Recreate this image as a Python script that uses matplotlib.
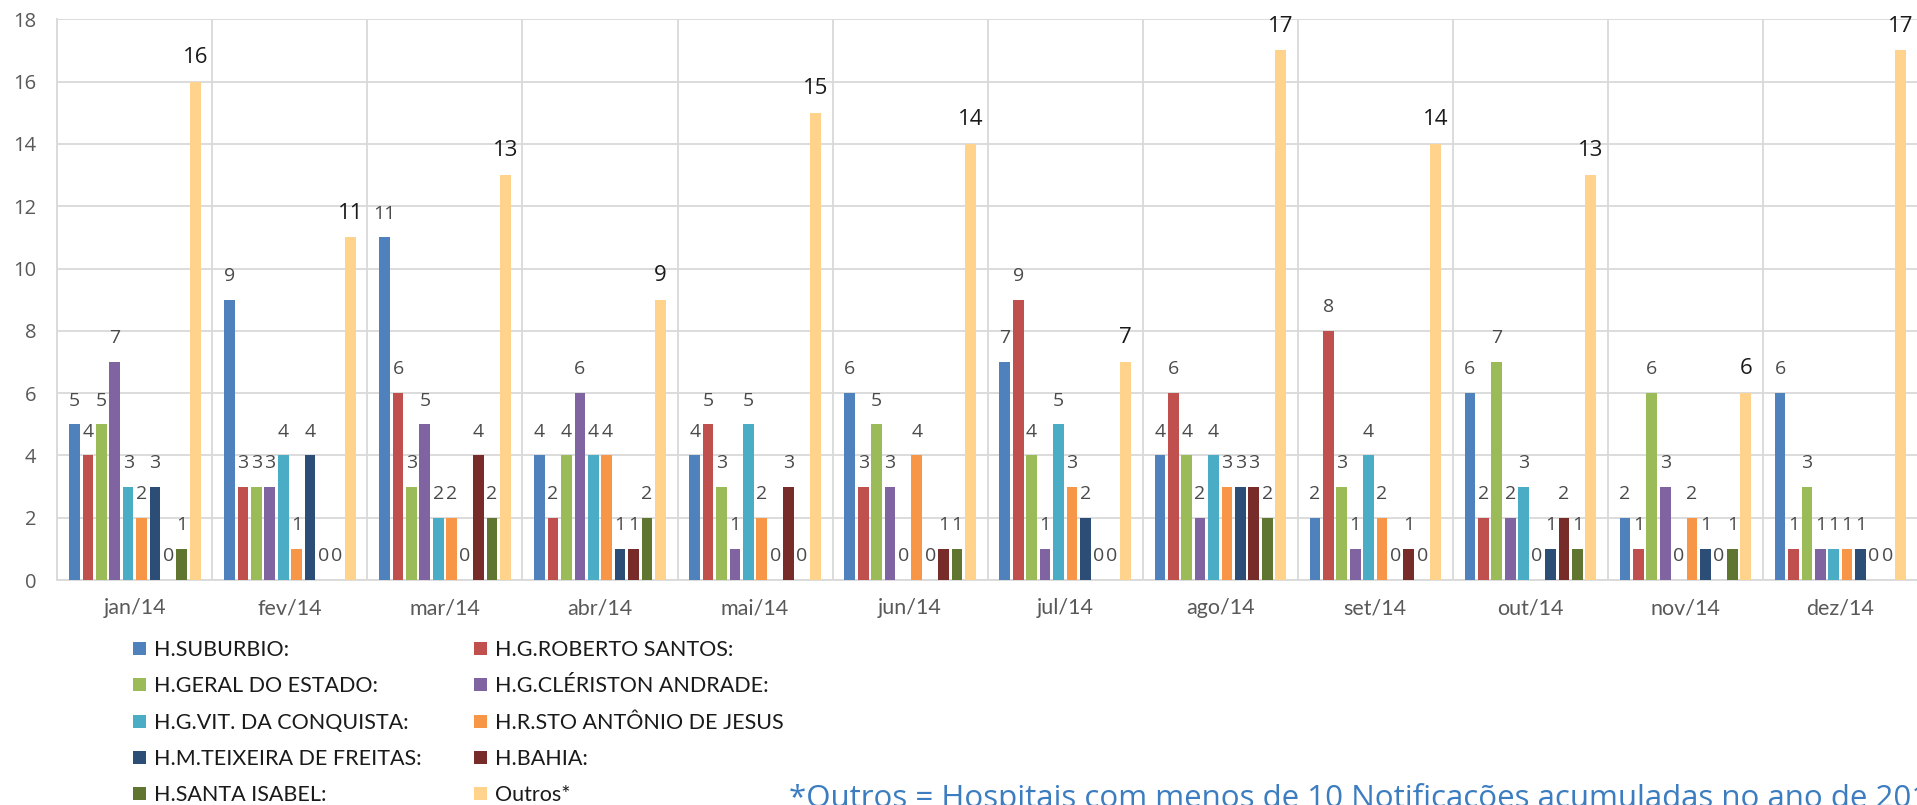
import numpy as np
import matplotlib.pyplot as plt
from matplotlib.patches import Patch

# months on the x axis
meses = ['jan/14', 'fev/14', 'mar/14', 'abr/14', 'mai/14', 'jun/14',
         'jul/14', 'ago/14', 'set/14', 'out/14', 'nov/14', 'dez/14']

# hospitals (series) and their colours
hospitais = ['H.SUBURBIO:', 'H.G.ROBERTO SANTOS:', 'H.GERAL DO ESTADO:',
             'H.G.CLÉRISTON ANDRADE:', 'H.G.VIT. DA CONQUISTA:',
             'H.R.STO ANTÔNIO DE JESUS', 'H.M.TEIXEIRA DE FREITAS:',
             'H.BAHIA:', 'H.SANTA ISABEL:', 'Outros*']
cores = ['#4F81BD', '#C0504D', '#9BBB59', '#8064A2', '#4BACC6',
         '#F79646', '#2C4D75', '#772C2A', '#5F7530', '#FFD38C']

# notifications per month, one list per hospital
suburbio = [5, 9, 11, 4, 4, 6, 7, 4, 2, 6, 2, 6]
roberto_santos = [4, 3, 6, 2, 5, 3, 9, 6, 8, 2, 1, 1]
geral_estado = [5, 3, 3, 4, 3, 5, 4, 4, 3, 7, 6, 3]
cleriston = [7, 3, 5, 6, 1, 3, 1, 2, 1, 2, 3, 1]
vit_conquista = [3, 4, 2, 4, 5, 0, 5, 4, 4, 3, 0, 1]
sto_antonio = [2, 1, 2, 4, 2, 4, 3, 3, 2, 0, 2, 1]
teixeira = [3, 4, 0, 1, 0, 0, 2, 3, 0, 1, 1, 1]
bahia = [0, 0, 4, 1, 3, 1, 0, 3, 1, 2, 0, 0]
santa_isabel = [1, 0, 2, 2, 0, 1, 0, 2, 0, 1, 1, 0]
outros = [16, 11, 13, 9, 15, 14, 7, 17, 14, 13, 6, 17]

series = [suburbio, roberto_santos, geral_estado, cleriston, vit_conquista,
          sto_antonio, teixeira, bahia, santa_isabel, outros]

nota = '*Outros = Hospitais com menos de 10 Notificações acumuladas no ano de 2014.'

fig = plt.figure(figsize=(19.17, 8.05), dpi=100)
ax = fig.add_axes([0.0299, 0.2795, 0.9706, 0.6965])

x = np.arange(len(meses))
passo = 0.0865
largura = 0.069
n = len(series)

for i, (vals, cor) in enumerate(zip(series, cores)):
    pos = x + (i - (n - 1) / 2) * passo
    ax.bar(pos, vals, width=largura, color=cor, zorder=3)
    for px, v in zip(pos, vals):
        if i == n - 1:
            ax.annotate(str(v), (px, v), xytext=(0, 17.5), textcoords='offset points',
                        ha='center', va='center', fontsize=16, color='#1a1a1a',
                        family='Open Sans', annotation_clip=False)
        else:
            ax.annotate(str(v), (px, v), xytext=(0, 17), textcoords='offset points',
                        ha='center', va='center', fontsize=14, color='#4a4a4a',
                        family='Open Sans', annotation_clip=False)

ax.set_xlim(-0.5, len(meses) - 0.5)
ax.set_ylim(0, 18)
ax.set_yticks(range(0, 19, 2))
ax.set_xticks(x)
ax.set_xticklabels(meses, family='Lato', fontsize=15.5, color='#595959')
for t in ax.get_yticklabels():
    t.set_family('Open Sans')
    t.set_fontsize(14.5)
    t.set_color('#595959')
ax.tick_params(axis='both', length=0)
ax.tick_params(axis='y', pad=15)
ax.tick_params(axis='x', pad=13)

# gridlines: horizontal every 2, vertical between months
ax.yaxis.grid(True, color='#d9d9d9', lw=1.3, zorder=0)
ax.set_xticks(np.arange(-0.5, len(meses), 1), minor=True)
ax.xaxis.grid(True, which='minor', color='#d9d9d9', lw=1.3, zorder=0)
ax.tick_params(axis='x', which='minor', length=0)
for s in ['top', 'right']:
    ax.spines[s].set_visible(False)
for s in ['left', 'bottom']:
    ax.spines[s].set_color('#d9d9d9')
    ax.spines[s].set_linewidth(1.3)

# legend in two columns, filled row by row like the original
ordem = [0, 2, 4, 6, 8, 1, 3, 5, 7, 9]
handles = [Patch(facecolor=cores[k], label=hospitais[k]) for k in ordem]
fig.legend(handles=handles, ncol=2, loc='upper left',
           bbox_to_anchor=(133 / 1917, 1 - 640 / 805),
           frameon=False, borderpad=0, borderaxespad=0,
           handlelength=0.6, handleheight=0.55, handletextpad=0.37,
           labelspacing=0.76, columnspacing=2.43,
           prop={'family': 'Lato', 'size': 15.5}, labelcolor='#1a1a1a')

fig.text(789 / 1917, -0.002, nota, family='Open Sans', fontsize=22.5,
         color='#3B7DC0', ha='left', va='baseline')

fig.savefig('out.png', dpi=100)
